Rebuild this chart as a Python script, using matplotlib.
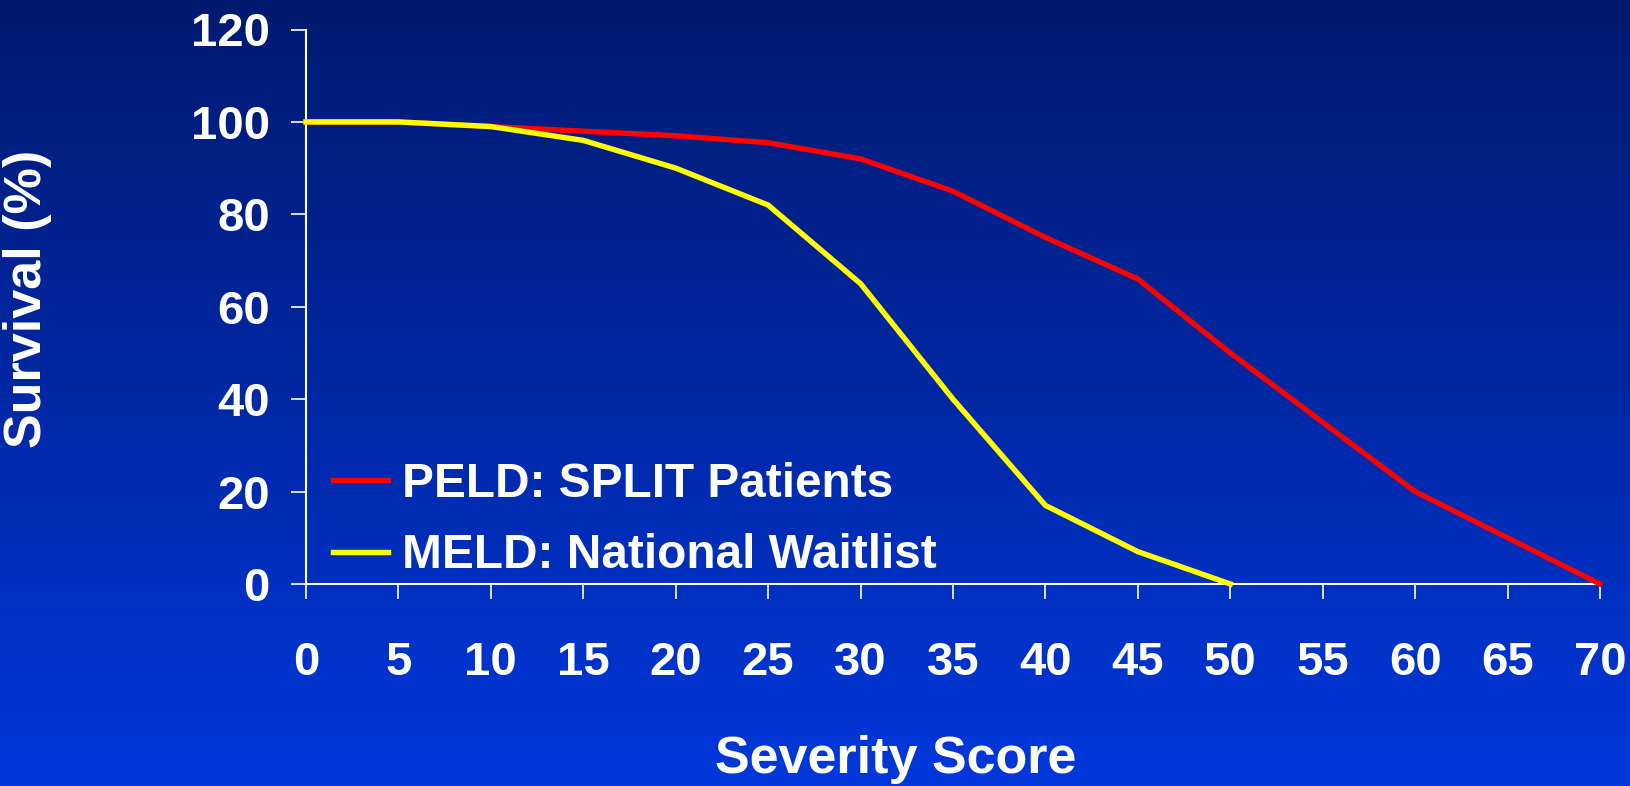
import numpy as np
import matplotlib
matplotlib.use("Agg")
import matplotlib.pyplot as plt
from matplotlib.colors import LinearSegmentedColormap

plt.rcParams['font.family'] = ['Liberation Sans', 'DejaVu Sans']
plt.rcParams['font.weight'] = 'bold'

scores = [0, 5, 10, 15, 20, 25, 30, 35, 40, 45, 50, 55, 60, 65, 70]
peld_split = [100, 100, 99, 98, 97, 95.5, 92, 85, 75, 66, 50, 35, 20, 10, 0]
meld_scores = [0, 5, 10, 15, 20, 25, 30, 35, 40, 45, 50]
meld_national = [100, 100, 99, 96, 90, 82, 65, 40, 17, 7, 0]
xticks = list(range(0, 71, 5))
yticks = list(range(0, 121, 20))
series_labels = ["PELD: SPLIT Patients", "MELD: National Waitlist"]

W, H = 1631, 786
fig = plt.figure(figsize=(W / 100, H / 100), dpi=100)

# background gradient
bg = fig.add_axes([0, 0, 1, 1], zorder=-10)
cmap = LinearSegmentedColormap.from_list("bg", ["#001a70", "#0028a4", "#0038dc"])
grad = np.linspace(0, 1, 256).reshape(-1, 1)
bg.imshow(grad, aspect='auto', cmap=cmap, extent=[0, 1, 1, 0])
bg.set_axis_off()

ax = fig.add_axes([306 / W, 1 - 584 / H, (1600 - 306) / W, (584 - 29.5) / H])
ax.set_facecolor('none')
ax.plot(scores, peld_split, color='#ff0000', lw=3.9, clip_on=False, label=series_labels[0], zorder=3)
ax.plot(meld_scores, meld_national, color='#ffff00', lw=3.9, clip_on=False, label=series_labels[1], zorder=4)

ax.set_xlim(0, 70)
ax.set_ylim(0, 120)
ax.set_xticks(xticks)
ax.set_yticks(yticks)
for s in ['top', 'right']:
    ax.spines[s].set_visible(False)
for s in ['left', 'bottom']:
    ax.spines[s].set_color('white')
    ax.spines[s].set_linewidth(1.5)
ax.tick_params(axis='both', colors='white', direction='out', length=11, width=1.2, labelsize=34)
ax.tick_params(axis='x', pad=30)
ax.tick_params(axis='y', pad=15)
for lab in ax.get_xticklabels() + ax.get_yticklabels():
    lab.set_fontweight('bold')

fig.text(28 / W, 1 - 299 / H, "Survival (%)", rotation=90, color='white', fontsize=37.5,
         fontweight='bold', ha='center', va='center')
fig.text(896 / W, 1 - 760 / H, "Severity Score", color='white', fontsize=37.5,
         fontweight='bold', ha='center', va='center')

leg = ax.legend(loc='upper left', bbox_to_anchor=(333 / W, 1 - 462 / H), bbox_transform=fig.transFigure,
                frameon=False, fontsize=34.4, handlelength=1.15, handletextpad=0.3,
                labelspacing=0.55, borderpad=0, borderaxespad=0)
for t in leg.get_texts():
    t.set_color('white')
    t.set_fontweight('bold')
for l in leg.get_lines():
    l.set_linewidth(3.9)

fig.savefig("out.png", dpi=100)
